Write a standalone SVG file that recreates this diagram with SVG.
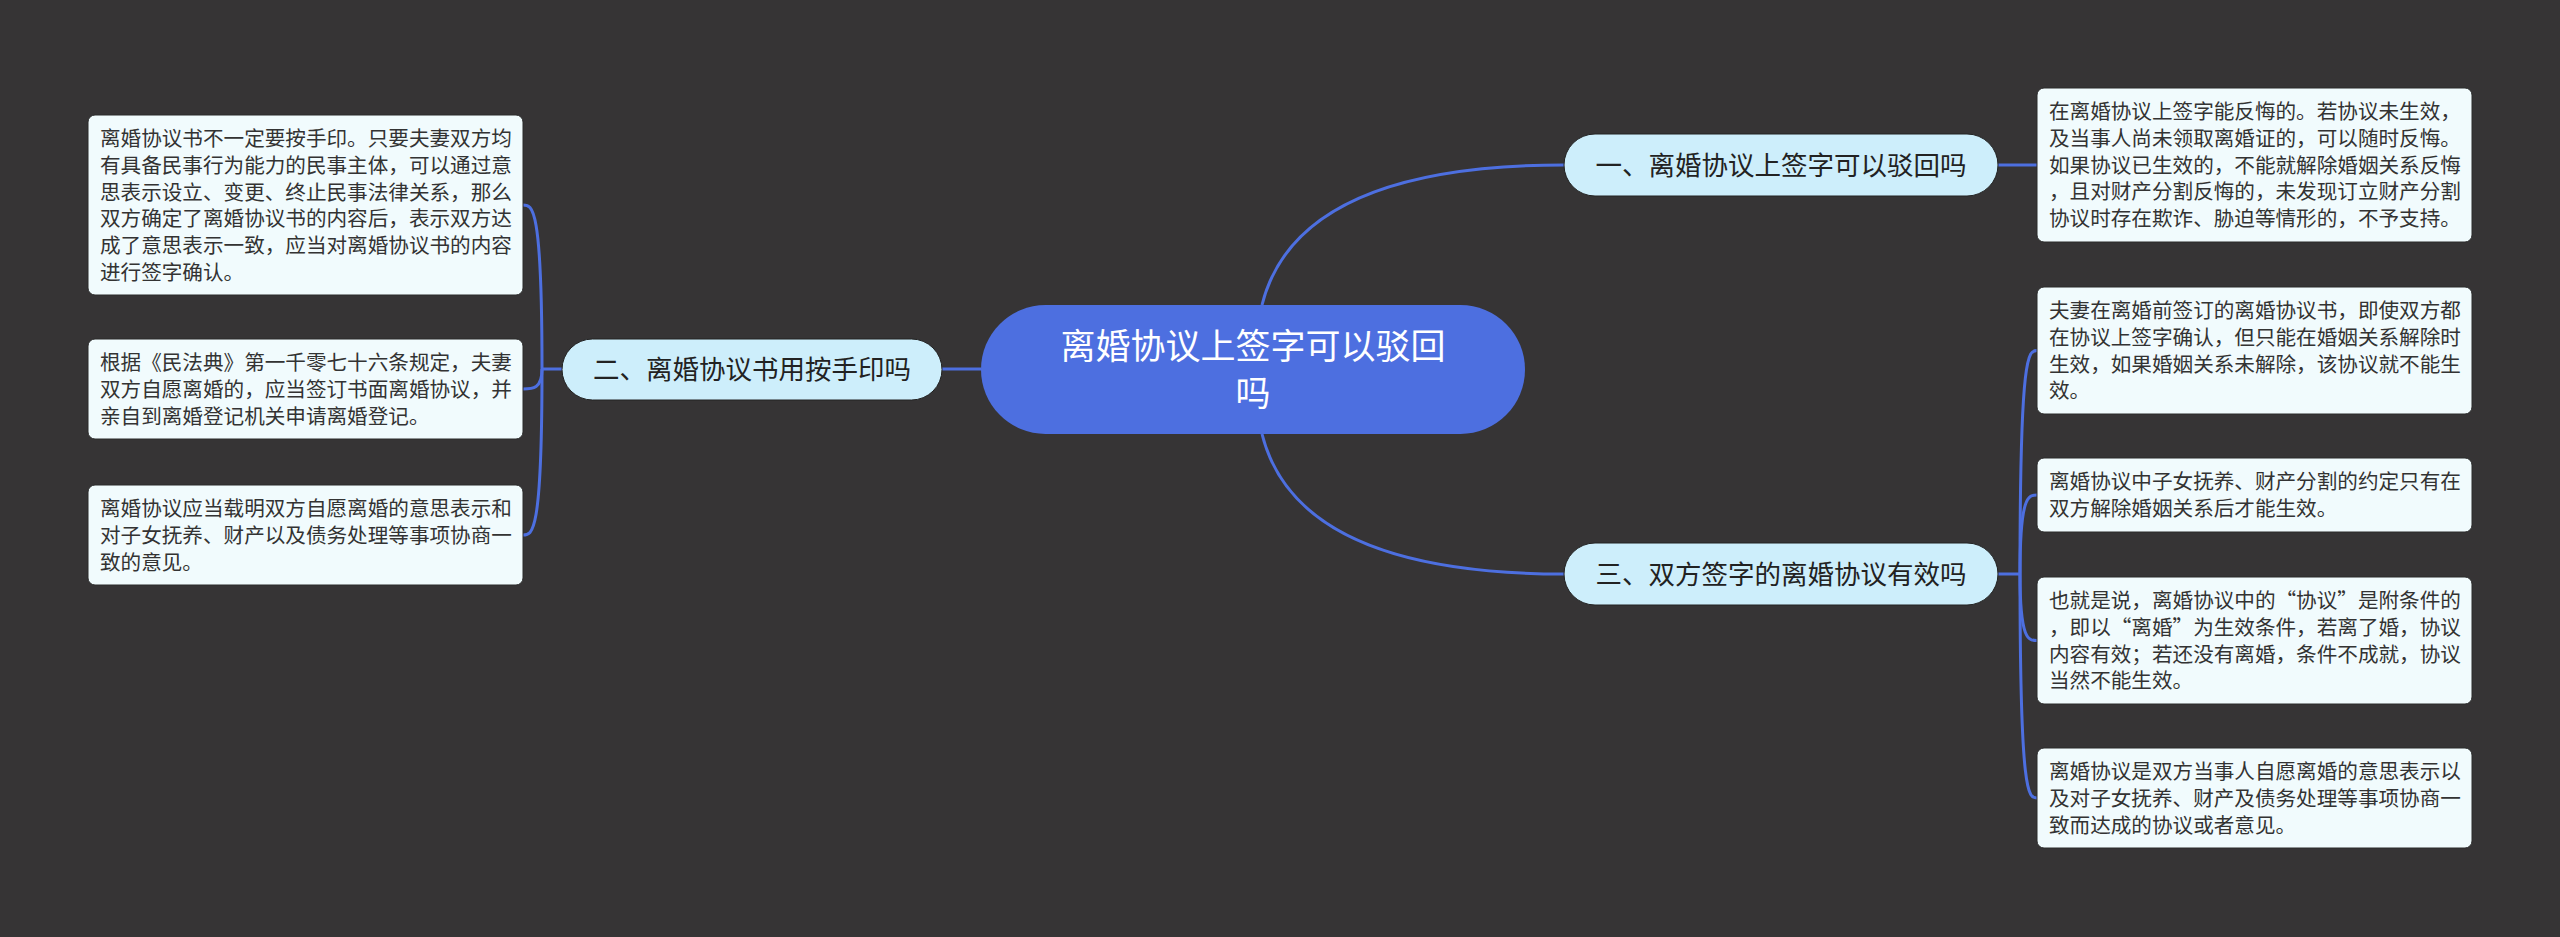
<svg xmlns="http://www.w3.org/2000/svg" width="2560" height="937" viewBox="0 0 2560 937">
<style>
.bg{fill:#363435}
.link{fill:none;stroke:#4d6fe0;stroke-width:3}
.root rect{fill:#4d6fe0}
.root text{fill:#ffffff;font-family:"Noto Sans CJK SC","Noto Sans",sans-serif;font-size:35px;text-anchor:middle}
.branch rect{fill:#cdeefb;stroke:#222;stroke-width:1}
.branch text{fill:#222;font-family:"Noto Sans CJK SC","Noto Sans",sans-serif;font-size:26.5px;text-anchor:middle}
.leaf rect{fill:#f1fbfd;stroke:#2a2a2a;stroke-width:1}
.leaf text{fill:#333;font-family:"Noto Sans CJK SC","Noto Sans",sans-serif;font-size:20.6px}
</style>
<rect class="bg" x="0" y="0" width="2560" height="937"/>
<g id="connectors">
<path class="link" d="M1262 305 Q1297 165 1564 165"/>
<path class="link" d="M1262 434 Q1297 574 1564 574"/>
<path class="link" d="M981 369 L942 369"/>
<path class="link" d="M1998 165 L2037 165"/>
<path class="link" d="M562 369 L542 369"/>
<path class="link" d="M542 369 C542 205 532.5 205 523 205"/>
<path class="link" d="M542 369 C542 389 532.5 389 523 389"/>
<path class="link" d="M542 369 C542 535 532.5 535 523 535"/>
<path class="link" d="M1998 574 L2020 574"/>
<path class="link" d="M2020 574 C2020 350.5 2028.5 350.5 2037 350.5"/>
<path class="link" d="M2020 574 C2020 495 2028.5 495 2037 495"/>
<path class="link" d="M2020 574 C2020 640.5 2028.5 640.5 2037 640.5"/>
<path class="link" d="M2020 574 C2020 798 2028.5 798 2037 798"/>
</g>
<g id="root" class="root">
<rect x="981" y="305" width="544" height="129" rx="64.5"/>
<text x="1253" y="359">离婚协议上签字可以驳回</text>
<text x="1253" y="406">吗</text>
</g>
<g id="branch1" class="branch">
<rect x="1564" y="134" width="434" height="62" rx="31"/>
<text x="1781" y="174.5">一、离婚协议上签字可以驳回吗</text>
</g>
<g id="branch2" class="branch">
<rect x="562" y="339" width="380" height="61" rx="30.5"/>
<text x="752" y="379">二、离婚协议书用按手印吗</text>
</g>
<g id="branch3" class="branch">
<rect x="1564" y="543" width="434" height="62" rx="31"/>
<text x="1781" y="583.5">三、双方签字的离婚协议有效吗</text>
</g>
<g id="leaf-l1" class="leaf">
<rect x="88" y="115" width="435" height="180" rx="7"/>
<text x="100" y="146"><tspan x="100">离婚协议书不一定要按手印。只要夫妻双方均</tspan><tspan x="100" dy="26.8">有具备民事行为能力的民事主体，可以通过意</tspan><tspan x="100" dy="26.8">思表示设立、变更、终止民事法律关系，那么</tspan><tspan x="100" dy="26.8">双方确定了离婚协议书的内容后，表示双方达</tspan><tspan x="100" dy="26.8">成了意思表示一致，应当对离婚协议书的内容</tspan><tspan x="100" dy="26.8">进行签字确认。</tspan></text>
</g>
<g id="leaf-l2" class="leaf">
<rect x="88" y="339" width="435" height="100" rx="7"/>
<text x="100" y="370"><tspan x="100">根据《民法典》第一千零七十六条规定，夫妻</tspan><tspan x="100" dy="26.8">双方自愿离婚的，应当签订书面离婚协议，并</tspan><tspan x="100" dy="26.8">亲自到离婚登记机关申请离婚登记。</tspan></text>
</g>
<g id="leaf-l3" class="leaf">
<rect x="88" y="485" width="435" height="100" rx="7"/>
<text x="100" y="516"><tspan x="100">离婚协议应当载明双方自愿离婚的意思表示和</tspan><tspan x="100" dy="26.8">对子女抚养、财产以及债务处理等事项协商一</tspan><tspan x="100" dy="26.8">致的意见。</tspan></text>
</g>
<g id="leaf-r1" class="leaf">
<rect x="2037" y="88" width="435" height="154" rx="7"/>
<text x="2049" y="119"><tspan x="2049">在离婚协议上签字能反悔的。若协议未生效，</tspan><tspan x="2049" dy="26.8">及当事人尚未领取离婚证的，可以随时反悔。</tspan><tspan x="2049" dy="26.8">如果协议已生效的，不能就解除婚姻关系反悔</tspan><tspan x="2049" dy="26.8">，且对财产分割反悔的，未发现订立财产分割</tspan><tspan x="2049" dy="26.8">协议时存在欺诈、胁迫等情形的，不予支持。</tspan></text>
</g>
<g id="leaf-r2" class="leaf">
<rect x="2037" y="287" width="435" height="127" rx="7"/>
<text x="2049" y="318"><tspan x="2049">夫妻在离婚前签订的离婚协议书，即使双方都</tspan><tspan x="2049" dy="26.8">在协议上签字确认，但只能在婚姻关系解除时</tspan><tspan x="2049" dy="26.8">生效，如果婚姻关系未解除，该协议就不能生</tspan><tspan x="2049" dy="26.8">效。</tspan></text>
</g>
<g id="leaf-r3" class="leaf">
<rect x="2037" y="458" width="435" height="74" rx="7"/>
<text x="2049" y="489"><tspan x="2049">离婚协议中子女抚养、财产分割的约定只有在</tspan><tspan x="2049" dy="26.8">双方解除婚姻关系后才能生效。</tspan></text>
</g>
<g id="leaf-r4" class="leaf">
<rect x="2037" y="577" width="435" height="127" rx="7"/>
<text x="2049" y="608"><tspan x="2049">也就是说，离婚协议中的“协议”是附条件的</tspan><tspan x="2049" dy="26.8">，即以“离婚”为生效条件，若离了婚，协议</tspan><tspan x="2049" dy="26.8">内容有效；若还没有离婚，条件不成就，协议</tspan><tspan x="2049" dy="26.8">当然不能生效。</tspan></text>
</g>
<g id="leaf-r5" class="leaf">
<rect x="2037" y="748" width="435" height="100" rx="7"/>
<text x="2049" y="779"><tspan x="2049">离婚协议是双方当事人自愿离婚的意思表示以</tspan><tspan x="2049" dy="26.8">及对子女抚养、财产及债务处理等事项协商一</tspan><tspan x="2049" dy="26.8">致而达成的协议或者意见。</tspan></text>
</g>
</svg>
